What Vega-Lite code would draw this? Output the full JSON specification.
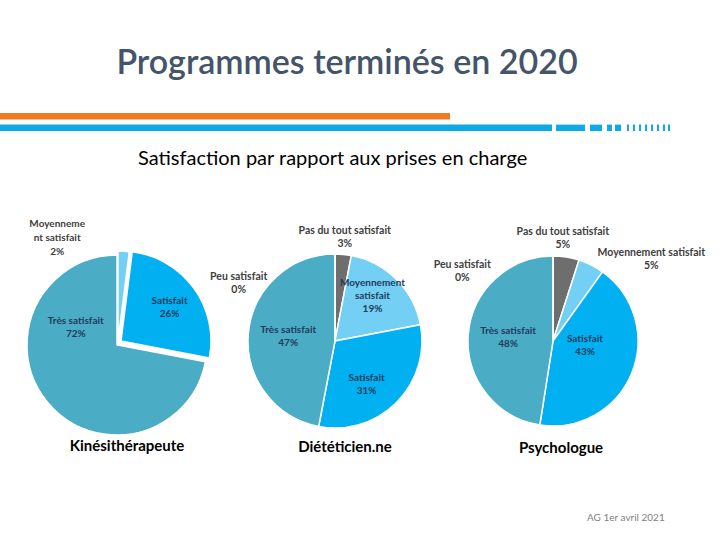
{
  "$schema": "https://vega.github.io/schema/vega-lite/v6.json",
  "background": "white",
  "padding": {"top": 47, "left": 0, "right": 0, "bottom": 0},
  "config": {"font": "Lato", "view": {"stroke": null}, "concat": {"spacing": 0}},
  "title": {"text": "AG 1er avril 2021", "orient": "bottom", "anchor": "start", "frame": "group", "fontSize": 10, "fontWeight": "normal", "color": "#7F7F7F", "dx": 587, "offset": 57},
  "datasets": {
    "lines": [
      {"line": "orange", "start": 0, "end": 450},
      {"line": "blue", "start": 0, "end": 552},
      {"line": "blue", "start": 556, "end": 585},
      {"line": "blue", "start": 590, "end": 602},
      {"line": "blue", "start": 607, "end": 612},
      {"line": "blue", "start": 615, "end": 621},
      {"line": "blue", "start": 627, "end": 629},
      {"line": "blue", "start": 633, "end": 635},
      {"line": "blue", "start": 639, "end": 641},
      {"line": "blue", "start": 645, "end": 647},
      {"line": "blue", "start": 651, "end": 653},
      {"line": "blue", "start": 657, "end": 659},
      {"line": "blue", "start": 663, "end": 665},
      {"line": "blue", "start": 668, "end": 670}
    ],
    "kine": [
      {"cat": "Moyennement satisfait", "value": 2, "ord": 1, "label": "Moyenneme\nnt satisfait\n2%"},
      {"cat": "Satisfait", "value": 26, "ord": 2, "label": "Satisfait\n26%"},
      {"cat": "Très satisfait", "value": 72, "ord": 3, "label": "Très satisfait\n72%"}
    ],
    "diet": [
      {"cat": "Pas du tout satisfait", "value": 3, "ord": 0, "label": "Pas du tout satisfait\n3%"},
      {"cat": "Moyennement satisfait", "value": 19, "ord": 1, "label": "Moyennement\nsatisfait\n19%"},
      {"cat": "Satisfait", "value": 31, "ord": 2, "label": "Satisfait\n31%"},
      {"cat": "Très satisfait", "value": 47, "ord": 3, "label": "Très satisfait\n47%"},
      {"cat": "Peu satisfait", "value": 0, "ord": 4, "label": "Peu satisfait\n0%"}
    ],
    "psy": [
      {"cat": "Pas du tout satisfait", "value": 5, "ord": 0, "label": "Pas du tout satisfait\n5%"},
      {"cat": "Moyennement satisfait", "value": 5, "ord": 1, "label": "Moyennement satisfait\n5%"},
      {"cat": "Satisfait", "value": 43, "ord": 2, "label": "Satisfait\n43%"},
      {"cat": "Très satisfait", "value": 48, "ord": 3, "label": "Très satisfait\n48%"},
      {"cat": "Peu satisfait", "value": 0, "ord": 4, "label": "Peu satisfait\n0%"}
    ]
  },
  "bounds": "flush",
  "spacing": 115,
  "vconcat": [
    {
      "width": 720,
      "height": 18,
      "data": {"name": "lines"},
      "title": {"text": "Programmes terminés en 2020", "anchor": "middle", "frame": "group", "fontSize": 34, "fontWeight": 600, "color": "#44546A", "dx": -13, "offset": 32},
      "encoding": {
        "x": {"field": "start", "type": "quantitative", "scale": {"domain": [0, 720]}, "axis": null},
        "x2": {"field": "end"},
        "y": {"field": "line", "type": "nominal", "scale": {"domain": ["orange", "blue"], "paddingInner": 0.45, "paddingOuter": 0}, "axis": null}
      },
      "layer": [
        {"transform": [{"filter": "datum.line === 'orange'"}], "mark": {"type": "bar", "color": "#F07B22"}},
        {"transform": [{"filter": "datum.line === 'blue'"}], "mark": {"type": "bar", "color": "#0FA9E6"}}
      ]
    },
    {
      "bounds": "flush",
      "spacing": 0,
      "title": {"text": "Satisfaction par rapport aux prises en charge", "anchor": "start", "frame": "group", "fontSize": 20, "fontWeight": "normal", "color": "#000000", "dx": 138, "offset": 42},
      "hconcat": [
        {
          "width": 234,
          "height": 190,
          "data": {"name": "kine"},
          "title": {"text": "Kinésithérapeute", "orient": "bottom", "anchor": "middle", "frame": "group", "fontSize": 15, "fontWeight": "bold", "color": "#000000", "dx": 10, "offset": -11},
          "encoding": {
            "theta": {"field": "value", "type": "quantitative", "stack": true},
            "order": {"field": "ord", "type": "quantitative"}
          },
          "layer": [
            {
              "mark": {"type": "arc", "outerRadius": 90, "stroke": "white", "strokeWidth": 1.5, "yOffset": 4},
              "encoding": {
                "color": {"field": "cat", "type": "nominal", "scale": {"domain": ["Pas du tout satisfait", "Peu satisfait", "Moyennement satisfait", "Satisfait", "Très satisfait"], "range": ["#6E6E6E", "#A5A5A5", "#73CFF3", "#00B0F0", "#4BACC6"]}, "legend": null},
                "opacity": {"condition": {"test": "datum.cat === 'Très satisfait'", "value": 1}, "value": 0}
              }
            },
            {
              "mark": {"type": "arc", "outerRadius": 90, "stroke": "white", "strokeWidth": 1.5, "xOffset": 4, "yOffset": 0},
              "encoding": {
                "color": {"field": "cat", "type": "nominal", "legend": null},
                "opacity": {"condition": {"test": "datum.cat === 'Satisfait'", "value": 1}, "value": 0}
              }
            },
            {
              "mark": {"type": "arc", "outerRadius": 90, "stroke": "white", "strokeWidth": 1.5, "xOffset": 1, "yOffset": 0},
              "encoding": {
                "color": {"field": "cat", "type": "nominal", "legend": null},
                "opacity": {"condition": {"test": "datum.cat === 'Moyennement satisfait'", "value": 1}, "value": 0}
              }
            },
            {
              "mark": {"type": "text", "radius": 60, "lineBreak": "\n", "lineHeight": 13, "fontSize": 10, "fontWeight": "bold", "color": "#1F3B5C", "xOffset": 4, "yOffset": 2, "dy": -6.5},
              "encoding": {"text": {"condition": {"test": "datum.cat === 'Satisfait'", "field": "label", "type": "nominal"}, "value": ""}}
            },
            {
              "mark": {"type": "text", "radius": 43, "thetaOffset": 0.98, "lineBreak": "\n", "lineHeight": 13, "fontSize": 10, "fontWeight": "bold", "color": "#1F3B5C", "yOffset": -1, "dy": -6.5},
              "encoding": {"text": {"condition": {"test": "datum.cat === 'Très satisfait'", "field": "label", "type": "nominal"}, "value": ""}}
            },
            {
              "mark": {"type": "text", "radius": 121, "thetaOffset": -0.58, "lineBreak": "\n", "lineHeight": 14, "fontSize": 10, "fontWeight": "bold", "color": "#404040", "yOffset": 2, "dy": -14},
              "encoding": {"text": {"condition": {"test": "datum.cat === 'Moyennement satisfait'", "field": "label", "type": "nominal"}, "value": ""}}
            }
          ]
        },
        {
          "width": 202,
          "height": 190,
          "data": {"name": "diet"},
          "title": {"text": "Diététicien.ne", "orient": "bottom", "anchor": "middle", "frame": "group", "fontSize": 15, "fontWeight": "bold", "color": "#000000", "dx": 10, "offset": 4},
          "encoding": {
            "theta": {"field": "value", "type": "quantitative", "stack": true},
            "order": {"field": "ord", "type": "quantitative"}
          },
          "layer": [
            {
              "mark": {"type": "arc", "outerRadius": 87, "stroke": "white", "strokeWidth": 1.5},
              "encoding": {
                "color": {"field": "cat", "type": "nominal", "scale": {"domain": ["Pas du tout satisfait", "Peu satisfait", "Moyennement satisfait", "Satisfait", "Très satisfait"], "range": ["#6E6E6E", "#A5A5A5", "#73CFF3", "#00B0F0", "#4BACC6"]}, "legend": null}
              }
            },
            {
              "mark": {"type": "text", "radius": 104, "lineBreak": "\n", "lineHeight": 13, "fontSize": 10.5, "fontWeight": "bold", "color": "#404040", "dy": -6.5},
              "encoding": {"text": {"condition": {"test": "datum.cat === 'Pas du tout satisfait'", "field": "label", "type": "nominal"}, "value": ""}}
            },
            {
              "mark": {"type": "text", "radius": 64, "thetaOffset": -0.16, "lineBreak": "\n", "lineHeight": 13, "fontSize": 10, "fontWeight": "bold", "color": "#1F3B5C", "dy": -6},
              "encoding": {"text": {"condition": {"test": "datum.cat === 'Moyennement satisfait'", "field": "label", "type": "nominal"}, "value": ""}}
            },
            {
              "mark": {"type": "text", "radius": 54, "thetaOffset": 0.16, "lineBreak": "\n", "lineHeight": 13, "fontSize": 10, "fontWeight": "bold", "color": "#1F3B5C", "dy": -6.5},
              "encoding": {"text": {"condition": {"test": "datum.cat === 'Satisfait'", "field": "label", "type": "nominal"}, "value": ""}}
            },
            {
              "mark": {"type": "text", "radius": 47, "lineBreak": "\n", "lineHeight": 13, "fontSize": 10, "fontWeight": "bold", "color": "#1F3B5C", "dy": -6.5},
              "encoding": {"text": {"condition": {"test": "datum.cat === 'Très satisfait'", "field": "label", "type": "nominal"}, "value": ""}}
            },
            {
              "mark": {"type": "text", "radius": 112, "thetaOffset": -1.035, "lineBreak": "\n", "lineHeight": 13, "fontSize": 10.5, "fontWeight": "bold", "color": "#404040", "dy": -6.5},
              "encoding": {"text": {"condition": {"test": "datum.cat === 'Peu satisfait'", "field": "label", "type": "nominal"}, "value": ""}}
            }
          ]
        },
        {
          "width": 234,
          "height": 190,
          "data": {"name": "psy"},
          "title": {"text": "Psychologue", "orient": "bottom", "anchor": "middle", "frame": "group", "fontSize": 15, "fontWeight": "bold", "color": "#000000", "dx": 8, "offset": 5},
          "encoding": {
            "theta": {"field": "value", "type": "quantitative", "stack": true},
            "order": {"field": "ord", "type": "quantitative"}
          },
          "layer": [
            {
              "mark": {"type": "arc", "outerRadius": 85, "stroke": "white", "strokeWidth": 1.5},
              "encoding": {
                "color": {"field": "cat", "type": "nominal", "scale": {"domain": ["Pas du tout satisfait", "Peu satisfait", "Moyennement satisfait", "Satisfait", "Très satisfait"], "range": ["#6E6E6E", "#A5A5A5", "#73CFF3", "#00B0F0", "#4BACC6"]}, "legend": null}
              }
            },
            {
              "mark": {"type": "text", "radius": 103, "thetaOffset": -0.06, "lineBreak": "\n", "lineHeight": 13, "fontSize": 10.5, "fontWeight": "bold", "color": "#404040", "dy": -6.5},
              "encoding": {"text": {"condition": {"test": "datum.cat === 'Pas du tout satisfait'", "field": "label", "type": "nominal"}, "value": ""}}
            },
            {
              "mark": {"type": "text", "radius": 128, "thetaOffset": 0.41, "lineBreak": "\n", "lineHeight": 13, "fontSize": 10.5, "fontWeight": "bold", "color": "#404040", "dy": -6.5},
              "encoding": {"text": {"condition": {"test": "datum.cat === 'Moyennement satisfait'", "field": "label", "type": "nominal"}, "value": ""}}
            },
            {
              "mark": {"type": "text", "radius": 32, "thetaOffset": -0.39, "lineBreak": "\n", "lineHeight": 13, "fontSize": 10, "fontWeight": "bold", "color": "#1F3B5C", "dy": -2},
              "encoding": {"text": {"condition": {"test": "datum.cat === 'Satisfait'", "field": "label", "type": "nominal"}, "value": ""}}
            },
            {
              "mark": {"type": "text", "radius": 45, "lineBreak": "\n", "lineHeight": 13, "fontSize": 10, "fontWeight": "bold", "color": "#1F3B5C", "dy": -6.5},
              "encoding": {"text": {"condition": {"test": "datum.cat === 'Très satisfait'", "field": "label", "type": "nominal"}, "value": ""}}
            },
            {
              "mark": {"type": "text", "radius": 114, "thetaOffset": -0.92, "lineBreak": "\n", "lineHeight": 13, "fontSize": 10.5, "fontWeight": "bold", "color": "#404040", "dy": -6.5},
              "encoding": {"text": {"condition": {"test": "datum.cat === 'Peu satisfait'", "field": "label", "type": "nominal"}, "value": ""}}
            }
          ]
        }
      ]
    }
  ]
}
